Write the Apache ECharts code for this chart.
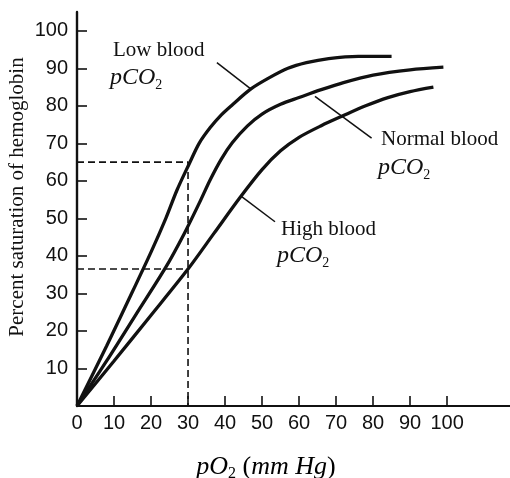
<!DOCTYPE html>
<html><head><meta charset="utf-8">
<script src="https://cdn.jsdelivr.net/npm/echarts@6/dist/echarts.min.js"></script>
<style>html,body{margin:0;padding:0;background:#fff}#c{width:510px;height:478px}</style>
</head><body><div id="c"></div>
<script>
// tick values
const xTickValues = [10, 20, 30, 40, 50, 60, 70, 80, 90, 100];
const xLabelValues = [0, 10, 20, 30, 40, 50, 60, 70, 80, 90, 100];
const yTickValues = [10, 20, 30, 40, 50, 60, 70, 80, 90, 100];

// curves: [pO2, % saturation]
const lowCO2 = [[0,0],[8,16],[15,30.5],[20,41],[24,50],[27,57.5],[30.3,64.5],[33,70],[36,74.2],[39,77.6],[42,80.3],[47,84.5],[52,87.5],[57,90],[62,91.5],[68,92.6],[76,93.2],[85,93.2]];
const normalCO2 = [[0,0],[8,12],[16,24.5],[24,37],[29,46],[33,54],[36,60.3],[39,65.8],[42,70.2],[46,74.6],[50,77.8],[55,80.4],[60,82.2],[66,84.3],[72,86.2],[80,88.2],[90,89.6],[99,90.3]];
const highCO2 = [[0,0],[10,12],[20,24.2],[30,36.5],[37,46],[44,55.5],[50,63],[55,68],[60,71.6],[66,74.7],[72,77.4],[78,80],[84,82.2],[90,83.8],[96.3,85]];

// dashed guides
const guideUpper = [[0,65],[30,65],[30,0]];
const guideLower = [[0,36.5],[30,36.5]];

// leader lines for the annotations
const leaderLow = [[37.8,91.5],[47.2,84.3]];
const leaderNormal = [[64.3,82.5],[79.6,71.4]];
const leaderHigh = [[44.5,55.8],[53.5,49.1]];

const INK = '#111';
const SERIF = '"Liberation Serif","DejaVu Serif",serif';
const SANS = '"Liberation Sans",Arial,sans-serif';

function curve(name, data) {
  return {name, type:'line', data, smooth:0.3, symbol:'none',
    lineStyle:{color:INK, width:3.3}, silent:true, z:3};
}
function dashed(data) {
  return {type:'line', data, symbol:'none', lineStyle:{color:INK, width:1.6, type:[7,4]}, silent:true, z:2};
}
function leader(data) {
  return {type:'line', data, symbol:'none', lineStyle:{color:INK, width:1.5}, silent:true, z:2};
}

const pco2Rich = {
  a:{fontFamily:SERIF, fontStyle:'italic', fontSize:24, lineHeight:28, color:INK},
  b:{fontFamily:SERIF, fontSize:14, lineHeight:11, verticalAlign:'bottom', color:INK}
};
function label(text, x, y, rich) {
  return {type:'text', x, y, silent:true, style:{text, rich, textVerticalAlign:'middle',
    fontFamily:SERIF, fontSize:21, fill:INK}};
}

const chart = echarts.init(document.getElementById('c'), null, {renderer:'canvas'});
chart.setOption({
  animation:false,
  backgroundColor:'#fff',
  grid:{left:77, right:0, top:12, bottom:72},
  xAxis:{type:'value', min:0, max:117,
    axisLine:{lineStyle:{color:INK, width:2}},
    axisTick:{inside:true, length:10, lineStyle:{color:INK, width:1.6}, customValues:xTickValues},
    axisLabel:{customValues:xLabelValues, color:INK, fontSize:20, fontFamily:SANS, margin:7},
    splitLine:{show:false}},
  yAxis:{type:'value', min:0, max:105,
    axisLine:{show:true, lineStyle:{color:INK, width:2.4}},
    axisTick:{show:true, inside:true, length:10, lineStyle:{color:INK, width:1.6}, customValues:yTickValues},
    axisLabel:{customValues:yTickValues, color:INK, fontSize:20, fontFamily:SANS, margin:9},
    splitLine:{show:false}},
  series:[
    curve('Low blood pCO2', lowCO2),
    curve('Normal blood pCO2', normalCO2),
    curve('High blood pCO2', highCO2),
    dashed(guideUpper), dashed(guideLower),
    leader(leaderLow), leader(leaderNormal), leader(leaderHigh)
  ],
  graphic:[
    label('Low blood', 113, 50),
    label('{a|pCO}{b|2}', 110, 78, pco2Rich),
    label('Normal blood', 381, 139),
    label('{a|pCO}{b|2}', 378, 168, pco2Rich),
    label('High blood', 281, 229),
    label('{a|pCO}{b|2}', 277, 256, pco2Rich),
    {type:'text', x:17, y:197, rotation:Math.PI/2, silent:true,
      style:{text:'Percent saturation of hemoglobin', textAlign:'center', textVerticalAlign:'middle',
        fontFamily:SERIF, fontSize:21, fill:INK}},
    {type:'text', x:266, y:467, silent:true,
      style:{text:'{a|pO}{b|2}{c| (}{a|mm Hg}{c|)}', textAlign:'center', textVerticalAlign:'middle',
        rich:{
          a:{fontFamily:SERIF, fontStyle:'italic', fontSize:26, lineHeight:30, color:INK},
          b:{fontFamily:SERIF, fontSize:16, lineHeight:12, verticalAlign:'bottom', color:INK},
          c:{fontFamily:SERIF, fontSize:26, lineHeight:30, color:INK}
        }}}
  ]
});
</script></body></html>
